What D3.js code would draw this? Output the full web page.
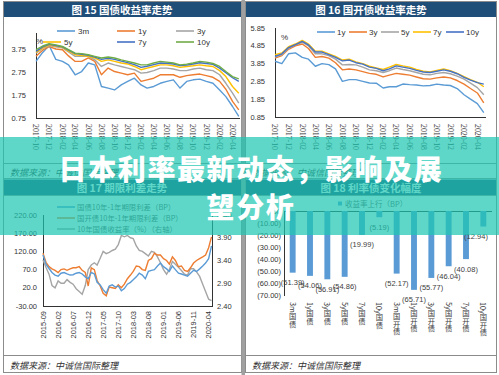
<!DOCTYPE html>
<html><head><meta charset="utf-8">
<script src="https://cdn.jsdelivr.net/npm/d3@7"></script>
<style>body{margin:0;background:#fff}svg{display:block}</style>
</head><body><svg id="c" width="499" height="375"></svg>
<script>
// ---------- DATA ----------
const dates1516 = ["2017-10-01","2017-11-01","2017-12-01","2018-01-01","2018-02-01","2018-03-01","2018-04-01","2018-05-01","2018-06-01","2018-07-01","2018-08-01","2018-09-01","2018-10-01","2018-11-01","2018-12-01","2019-01-01","2019-02-01","2019-03-01","2019-04-01","2019-05-01","2019-06-01","2019-07-01","2019-08-01","2019-09-01","2019-10-01","2019-11-01","2019-12-01","2020-01-01","2020-02-01","2020-03-01","2020-04-01","2020-04-30"];
const ticks1516 = ["2017-10","2017-12","2018-02","2018-04","2018-06","2018-08","2018-10","2018-12","2019-02","2019-04","2019-06","2019-08","2019-10","2019-12","2020-02","2020-04"];

// Fig 15 国债收益率 (%)
const names15 = ["3m","1y","3y","5y","7y","10y"];
const gz3m  = [3.21,3.60,3.90,3.30,3.21,3.06,2.63,2.77,3.14,3.06,2.12,2.05,1.97,2.19,2.34,2.48,2.19,2.05,2.12,2.26,2.34,2.41,2.05,2.34,2.41,2.44,2.34,2.26,1.97,1.68,1.25,0.82];
const gz1y  = [3.43,3.70,3.85,3.75,3.72,3.45,3.21,3.21,3.36,3.21,2.63,2.92,2.77,2.70,2.63,2.70,2.34,2.41,2.48,2.63,2.63,2.63,2.52,2.59,2.63,2.66,2.59,2.52,2.34,2.00,1.47,1.10];
const gz3y  = [3.57,3.78,3.90,3.85,3.80,3.62,3.43,3.43,3.43,3.28,2.99,3.14,3.06,2.99,2.92,2.85,2.70,2.73,2.81,2.92,2.92,2.88,2.81,2.81,2.88,2.92,2.85,2.81,2.63,2.26,1.83,1.40];
const gz5y  = [3.60,3.80,3.92,3.88,3.82,3.66,3.50,3.47,3.43,3.36,3.21,3.28,3.21,3.14,3.10,2.99,2.85,2.92,2.99,3.06,3.06,3.02,2.95,2.99,3.02,3.06,3.02,2.99,2.81,2.55,2.12,1.83];
const gz7y  = [3.65,3.84,3.95,3.90,3.84,3.70,3.55,3.52,3.48,3.40,3.30,3.35,3.30,3.22,3.16,3.07,2.95,3.00,3.07,3.14,3.13,3.10,3.03,3.05,3.10,3.15,3.12,3.08,2.92,2.72,2.50,2.34];
const gz10y = [3.72,3.88,3.98,3.93,3.86,3.72,3.57,3.55,3.50,3.43,3.36,3.40,3.36,3.28,3.21,3.14,3.06,3.06,3.14,3.21,3.18,3.14,3.06,3.09,3.14,3.21,3.18,3.12,2.99,2.77,2.55,2.45];
const ticksY15 = [0.75,1.75,2.75,3.75];

// Fig 16 国开债收益率 (%)
const names16 = ["1y","3y","5y","7y","10y"];
const gk1y  = [3.98,3.85,4.40,4.45,4.20,4.10,3.70,3.85,3.79,3.55,2.85,2.95,2.95,2.85,2.76,2.75,2.48,2.55,2.55,2.70,2.67,2.65,2.60,2.62,2.70,2.65,2.62,2.45,2.10,1.85,1.60,1.10];
const gk3y  = [4.16,4.30,4.65,4.85,4.95,4.70,4.20,4.25,4.16,3.90,3.50,3.55,3.50,3.40,3.30,3.25,3.10,3.20,3.30,3.25,3.20,3.10,3.00,2.98,3.05,3.10,3.05,2.90,2.70,2.45,2.20,1.65];
const gk5y  = [4.22,4.35,4.70,4.90,5.05,4.85,4.40,4.40,4.30,4.10,3.78,3.80,3.78,3.65,3.50,3.45,3.35,3.45,3.60,3.52,3.45,3.35,3.25,3.22,3.30,3.35,3.28,3.15,2.98,2.75,2.50,2.10];
const gk7y  = [4.35,4.45,4.80,4.95,5.15,4.95,4.55,4.55,4.40,4.25,4.05,4.10,3.95,3.85,3.70,3.60,3.52,3.65,3.80,3.72,3.65,3.52,3.42,3.38,3.47,3.55,3.45,3.30,3.12,2.95,2.80,2.55];
const gk10y = [4.26,4.40,4.75,4.92,5.10,4.90,4.50,4.50,4.35,4.20,4.00,4.05,3.90,3.82,3.65,3.58,3.45,3.55,3.72,3.65,3.58,3.47,3.38,3.35,3.42,3.50,3.42,3.28,3.08,2.92,2.78,2.70];
const ticksY16 = [0.85,1.85,2.85,3.85,4.85,5.85];

// Fig 17 期限利差走势
const dates17 = ["2015-09-01","2015-10-01","2015-11-01","2015-12-01","2016-01-01","2016-02-01","2016-03-01","2016-04-01","2016-05-01","2016-06-01","2016-07-01","2016-08-01","2016-09-01","2016-10-01","2016-11-01","2016-12-01","2017-01-01","2017-02-01","2017-03-01","2017-04-01","2017-05-01","2017-06-01","2017-07-01","2017-08-01","2017-09-01","2017-10-01","2017-11-01","2017-12-01","2018-01-01","2018-02-01","2018-03-01","2018-04-01","2018-05-01","2018-06-01","2018-07-01","2018-08-01","2018-09-01","2018-10-01","2018-11-01","2018-12-01","2019-01-01","2019-02-01","2019-03-01","2019-04-01","2019-05-01","2019-06-01","2019-07-01","2019-08-01","2019-09-01","2019-10-01","2019-11-01","2019-12-01","2020-01-01","2020-02-01","2020-03-01","2020-04-01","2020-04-30"];
const ticks17 = ["2015-09","2016-02","2016-07","2016-12","2017-05","2017-10","2018-03","2018-08","2019-01","2019-06","2019-11","2020-04"];
const legend17 = ["国债10年-1年期限利差（BP）","国开债10年-1年期限利差（BP）","10年国债收益率（%）（右轴）"];
const spreadGz = [110,85,73,62,55,52,60,62,58,55,56,60,62,58,50,45,62,58,35,28,15,5,25,28,22,25,12,18,30,35,42,50,60,55,45,65,68,70,80,88,78,72,65,80,70,60,58,55,52,60,68,65,72,80,88,100,135];
const spreadGk = [115,90,78,72,68,62,70,72,68,72,75,75,78,68,62,25,75,70,40,25,5,-2,22,20,18,28,20,30,45,55,65,80,78,70,68,95,100,115,110,110,100,95,85,105,95,78,80,68,65,75,88,95,100,105,110,130,160];
const yield10 = [3.41,3.25,3.10,2.85,2.80,2.95,2.90,2.90,2.98,2.92,2.88,2.78,2.72,2.66,2.85,3.20,3.30,3.35,3.30,3.45,3.60,3.55,3.58,3.62,3.65,3.75,3.95,3.92,3.95,3.90,3.88,3.72,3.62,3.60,3.55,3.50,3.60,3.58,3.48,3.35,3.20,3.10,3.20,3.38,3.32,3.25,3.18,3.10,3.08,3.22,3.22,3.15,3.05,2.88,2.72,2.55,2.52];
const ticksL17 = [-30,20,70,120,170,220];
const tickLblL17 = ["-30.00","20.0","70.0","120.00","170.00","220.00"];
const ticksR17 = [2.40,2.90,3.40,3.90,4.40];

// Fig 18 利率债变化幅度 (BP)
const cats18 = ["3m国债","1y国债","3y国债","5y国债","7y国债","10y国债","3m国开债","1y国开债","3y国开债","5y国开债","7y国开债","10y国开债"];
const chg18 = [-51.39,-54.06,-56.91,-54.86,-19.99,-5.19,-52.17,-65.71,-55.77,-46.04,-40.08,-12.94];
const ticksY18 = [0,-10,-20,-30,-40,-50,-60,-70];

const titles = ["图 15 国债收益率走势","图 16 国开债收益率走势","图 17 期限利差走势","图 18 利率债变化幅度"];
const sourceText = "数据来源：中诚信国际整理";
const headline = ["日本利率最新动态，影响及展","望分析"];

// ---------- DRAW ----------
const svg = d3.select("#c");
const P = d3.timeParse("%Y-%m-%d");
const PM = d3.timeParse("%Y-%m");
const C = {blue:"#5b9bd5",orange:"#ed7d31",gray:"#a5a5a5",yellow:"#ffc000",dblue:"#4472c4",green:"#70ad47"};
const sans = "'Liberation Sans', Arial, sans-serif";
const cjk = "'Noto Sans CJK SC', sans-serif";

// frames
svg.append("rect").attr("x",0).attr("y",0).attr("width",499).attr("height",375).attr("fill","#fff");
[[3.5,238],[245.5,251]].forEach(([x,w])=>{
  svg.append("rect").attr("x",x).attr("y",1.5).attr("width",w).attr("height",371).attr("fill","#fff").attr("stroke","#8c8c8c");
  [163.5,178.5,195.5,355.5].forEach(y=>svg.append("line").attr("x1",x).attr("x2",x+w).attr("y1",y).attr("y2",y).attr("stroke","#8c8c8c"));
  svg.append("rect").attr("x",x+0.5).attr("y",2).attr("width",w-1).attr("height",15).attr("fill","#1f4e79");
  svg.append("rect").attr("x",x+0.5).attr("y",179.5).attr("width",w-1).attr("height",15.5).attr("fill","#1f4e79");
});
svg.append("rect").attr("x",241.5).attr("y",0).attr("width",3.5).attr("height",375).attr("fill","#a0a0a0");
const titlePos = [[122,14],[371,14],[122,191.5],[371,191.5]];
titles.forEach((t,i)=>svg.append("text").attr("x",titlePos[i][0]).attr("y",titlePos[i][1]).attr("text-anchor","middle")
  .attr("font-family",cjk).attr("font-weight","bold").attr("font-size",10.5).attr("fill","#fff").text(t));
[[10,176],[252,176],[10,368.5],[252,368.5]].forEach(([x,y])=>svg.append("text").attr("x",x).attr("y",y)
  .attr("font-family",cjk).attr("font-style","italic").attr("font-size",9).attr("fill","#333").text(sourceText));

function axisLines(g, x0, x1, y0, y1){
  g.append("line").attr("x1",x0).attr("x2",x0).attr("y1",y0).attr("y2",y1).attr("stroke","#333").attr("stroke-width",1);
}
const line = (x,y,dates)=>d3.line().x((d,i)=>x(P(dates[i]))).y(d=>y(d));

// ----- Fig 15 -----
{
  const g = svg.append("g");
  const x = d3.scaleTime().domain([P("2017-10-01"),P("2020-05-01")]).range([36,239]);
  const y = d3.scaleLinear().domain([0.75,3.75]).range([118,49]);
  g.append("line").attr("x1",36.5).attr("x2",36.5).attr("y1",33).attr("y2",118.5).attr("stroke","#333");
  g.append("line").attr("x1",36).attr("x2",240).attr("y1",118.5).attr("y2",118.5).attr("stroke","#333");
  ticksY15.forEach(v=>g.append("text").attr("x",26).attr("y",y(v)+2.5).attr("text-anchor","end").attr("font-family",sans).attr("font-size",7.5).attr("fill","#333").text(v.toFixed(2)));
  ticks1516.forEach(t=>{const xx=x(PM(t)); g.append("text").attr("transform",`translate(${xx},124) rotate(90)`).attr("dy","0.35em")
    .attr("font-family","'Liberation Serif', serif").attr("font-size",7.8).attr("fill","#333").text(t);});
  g.append("text").attr("x",36).attr("y",44).attr("font-family",sans).attr("font-size",8).attr("fill","#333").text("%");
  const series = [gz3m,gz1y,gz3y,gz5y,gz7y,gz10y];
  const cols = [C.blue,C.orange,C.gray,C.yellow,C.dblue,C.green];
  series.forEach((s,i)=>g.append("path").attr("d",line(x,y,dates1516)(s)).attr("fill","none").attr("stroke",cols[i]).attr("stroke-width",1.4).attr("stroke-linejoin","round"));
  const lx=[57,117,176], ly=[31,42];
  names15.forEach((n,i)=>{const X=lx[i%3]-(i>=3&&i%3===0?14:0), Y=ly[Math.floor(i/3)];
    g.append("line").attr("x1",X).attr("x2",X+18).attr("y1",Y).attr("y2",Y).attr("stroke",cols[i]).attr("stroke-width",1.6);
    g.append("text").attr("x",X+21).attr("y",Y+2.8).attr("font-family",sans).attr("font-size",8).attr("fill","#333").text(n);});
}

// ----- Fig 16 -----
{
  const g = svg.append("g");
  const x = d3.scaleTime().domain([P("2017-10-01"),P("2020-05-01")]).range([275,484]);
  const y = d3.scaleLinear().domain([0.85,5.85]).range([117,28]);
  g.append("line").attr("x1",275.5).attr("x2",275.5).attr("y1",28).attr("y2",117.5).attr("stroke","#333");
  g.append("line").attr("x1",275).attr("x2",486).attr("y1",117.5).attr("y2",117.5).attr("stroke","#333");
  ticksY16.forEach(v=>g.append("text").attr("x",265).attr("y",y(v)+2.5).attr("text-anchor","end").attr("font-family",sans).attr("font-size",7.5).attr("fill","#333").text(v.toFixed(2)));
  ticks1516.forEach(t=>{const xx=x(PM(t)); g.append("text").attr("transform",`translate(${xx},124) rotate(90)`).attr("dy","0.35em")
    .attr("font-family","'Liberation Serif', serif").attr("font-size",7.8).attr("fill","#333").text(t);});
  g.append("text").attr("x",281).attr("y",40).attr("font-family",sans).attr("font-size",8).attr("fill","#333").text("%");
  const series = [gk1y,gk3y,gk5y,gk7y,gk10y];
  const cols = [C.blue,C.orange,C.gray,C.yellow,C.dblue];
  series.forEach((s,i)=>g.append("path").attr("d",line(x,y,dates1516)(s)).attr("fill","none").attr("stroke",cols[i]).attr("stroke-width",1.4).attr("stroke-linejoin","round"));
  const lx=[317,349,381,413,446];
  names16.forEach((n,i)=>{
    g.append("line").attr("x1",lx[i]).attr("x2",lx[i]+18).attr("y1",32).attr("y2",32).attr("stroke",cols[i]).attr("stroke-width",1.6);
    g.append("text").attr("x",lx[i]+20).attr("y",34.8).attr("font-family",sans).attr("font-size",8).attr("fill","#333").text(n);});
}

// ----- Fig 17 -----
{
  const g = svg.append("g");
  const x = d3.scaleTime().domain([P("2015-09-01"),P("2020-05-05")]).range([43,212]);
  const yl = d3.scaleLinear().domain([-30,220]).range([306,215]);
  const yr = d3.scaleLinear().domain([2.40,4.40]).range([306,215]);
  g.append("line").attr("x1",43.5).attr("x2",43.5).attr("y1",215).attr("y2",306.5).attr("stroke","#333");
  g.append("line").attr("x1",212.5).attr("x2",212.5).attr("y1",215).attr("y2",306.5).attr("stroke","#333");
  g.append("line").attr("x1",43).attr("x2",213).attr("y1",306.5).attr("y2",306.5).attr("stroke","#333");
  ticksL17.forEach((v,i)=>g.append("text").attr("x",37).attr("y",yl(v)+2.5).attr("text-anchor","end").attr("font-family",sans).attr("font-size",7.5).attr("fill","#333").text(tickLblL17[i]));
  ticksR17.forEach(v=>g.append("text").attr("x",217).attr("y",yr(v)+2.5).attr("font-family",sans).attr("font-size",7.5).attr("fill","#333").text(v.toFixed(2)));
  ticks17.forEach(t=>{const xx=x(PM(t)); g.append("text").attr("transform",`translate(${xx},311) rotate(-90)`).attr("dy","0.35em").attr("text-anchor","end")
    .attr("font-family",sans).attr("font-size",7.5).attr("fill","#333").text(t);});
  const cols=[C.blue,C.orange,C.gray];
  g.append("path").attr("d",line(x,yr,dates17)(yield10)).attr("fill","none").attr("stroke",C.gray).attr("stroke-width",1.4);
  g.append("path").attr("d",line(x,yl,dates17)(spreadGk)).attr("fill","none").attr("stroke",C.orange).attr("stroke-width",1.4);
  g.append("path").attr("d",line(x,yl,dates17)(spreadGz)).attr("fill","none").attr("stroke",C.blue).attr("stroke-width",1.4);
  legend17.forEach((t,i)=>{const Y=207+11*i;
    g.append("line").attr("x1",57).attr("x2",75).attr("y1",Y).attr("y2",Y).attr("stroke",cols[i]).attr("stroke-width",1.6);
    g.append("text").attr("x",77).attr("y",Y+2.7).attr("font-family",cjk).attr("font-size",7.4).attr("fill","#595959").text(t);});
}

// ----- Fig 18 -----
{
  const g = svg.append("g");
  const x = d3.scaleBand().domain(cats18).range([284,492]).paddingInner(0.66).paddingOuter(0.33);
  const y = d3.scaleLinear().domain([0,-70]).range([211,295]);
  g.append("line").attr("x1",284.5).attr("x2",284.5).attr("y1",211).attr("y2",296).attr("stroke","#333");
  g.append("line").attr("x1",284).attr("x2",492).attr("y1",211.5).attr("y2",211.5).attr("stroke","#333");
  ticksY18.forEach(v=>g.append("text").attr("x",281).attr("y",y(v)+2.7).attr("text-anchor","end").attr("font-family",sans).attr("font-size",7.5).attr("fill","#333")
    .text(v===0?"0.00":"("+Math.abs(v).toFixed(2)+")"));
  g.selectAll("rect.b").data(chg18).enter().append("rect").attr("x",(d,i)=>x(cats18[i])).attr("width",x.bandwidth())
    .attr("y",y(0)).attr("height",d=>y(d)-y(0)).attr("fill",C.blue);
  chg18.forEach((d,i)=>{const cx=Math.min(x(cats18[i])+x.bandwidth()/2,476);
    g.append("text").attr("x",cx).attr("y",y(d)+12.5).attr("text-anchor","middle").attr("font-family",sans).attr("font-size",7.5).attr("fill","#404040")
      .text("("+Math.abs(d).toFixed(2)+")");});
  cats18.forEach(c=>g.append("text").attr("x",x(c)+x.bandwidth()/2).attr("y",302).attr("style","writing-mode:vertical-rl")
    .attr("font-family",cjk).attr("font-size",7.3).attr("fill","#404040").text(c));
  g.append("rect").attr("x",338).attr("y",201.5).attr("width",4).attr("height",4).attr("fill",C.blue);
  g.append("text").attr("x",345).attr("y",206.5).attr("font-family",cjk).attr("font-size",7.5).attr("fill","#595959").text("收益率上行（BP）");
}

// ----- Overlay headline -----
svg.append("rect").attr("x",0).attr("y",137).attr("width",499).attr("height",98).attr("fill","rgb(30,199,177)").attr("fill-opacity",0.71);
headline.forEach((t,i)=>svg.append("text").attr("x",251).attr("y",[180,218][i]).attr("text-anchor","middle")
  .attr("font-family",cjk).attr("font-weight",900).attr("font-size",28).attr("letter-spacing",1.6).attr("fill","#fff").text(t));
</script></body></html>
